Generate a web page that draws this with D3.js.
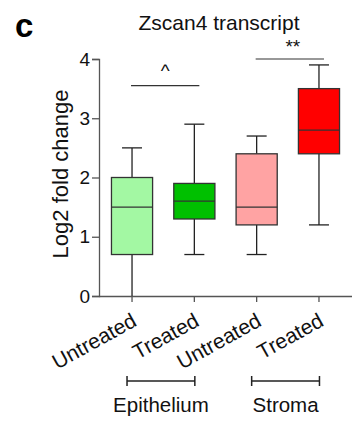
<!DOCTYPE html>
<html>
<head>
<meta charset="utf-8">
<script src="https://cdn.jsdelivr.net/npm/d3@7"></script>
<style>
  body { margin: 0; background: #fff; }
  text { font-family: Arial, "Liberation Sans", sans-serif; }
</style>
</head>
<body>
<div id="chart"></div>
<script>
// data
const categories = ["Untreated", "Treated", "Untreated", "Treated"];
const mins = [0, 0.7, 0.7, 1.2];
const q1s = [0.7, 1.3, 1.2, 2.4];
const medians = [1.5, 1.6, 1.5, 2.8];
const q3s = [2.0, 1.9, 2.4, 3.5];
const maxs = [2.5, 2.9, 2.7, 3.9];
const fills = ["#a3f8a3", "#00c000", "#ffa3a3", "#ff0000"];
const yTicks = [0, 1, 2, 3, 4];
const groups = [
  { name: "Epithelium", from: 0, to: 1 },
  { name: "Stroma", from: 2, to: 3 }
];
const sigs = [
  { label: "^", from: 0, to: 1, y: 3.55 },
  { label: "**", from: 2, to: 3, y: 4.0 }
];

const W = 356, H = 421;
const margin = { top: 60, right: 4, bottom: 125, left: 99 };

const svg = d3.select("#chart")
  .append("svg")
  .attr("width", W)
  .attr("height", H);

const x = d3.scaleBand()
  .domain(d3.range(categories.length))
  .range([margin.left, 352])
  .paddingInner(0.34)
  .paddingOuter(0.2);

const y = d3.scaleLinear()
  .domain([0, 4])
  .range([296, 59]);

const bw = x.bandwidth();
const cx = i => x(i) + bw / 2;

// axes
const yAxis = svg.append("g")
  .attr("transform", `translate(${margin.left},0)`)
  .call(d3.axisLeft(y).tickValues(yTicks).tickSize(7).tickPadding(2).tickFormat(d3.format("d")));
yAxis.selectAll("text").attr("font-size", "19px").attr("fill", "#111");
yAxis.select(".domain").attr("stroke", "#555").attr("stroke-width", 1.3);
yAxis.selectAll(".tick line").attr("stroke", "#555").attr("stroke-width", 1.3);

const xAxis = svg.append("g")
  .attr("transform", `translate(0,${y(0)})`)
  .call(d3.axisBottom(x).tickSize(6).tickFormat(i => categories[i]).tickSizeOuter(0));
xAxis.select(".domain").attr("stroke", "#555").attr("stroke-width", 1.3)
  .attr("d", `M${margin.left},0.5H352`);
xAxis.selectAll(".tick line").attr("stroke", "#555").attr("stroke-width", 1.3);
xAxis.selectAll("text")
  .attr("font-size", "21px")
  .attr("fill", "#111")
  .attr("text-anchor", "end")
  .attr("y", 0)
  .attr("dy", "0")
  .attr("transform", "translate(6,29) rotate(-29)");

// whiskers and boxes
const boxes = svg.append("g");
categories.forEach((c, i) => {
  const g = boxes.append("g");
  g.append("line")
    .attr("x1", cx(i)).attr("x2", cx(i))
    .attr("y1", y(mins[i])).attr("y2", y(q1s[i]))
    .attr("stroke", "#222").attr("stroke-width", 1.3);
  g.append("line")
    .attr("x1", cx(i)).attr("x2", cx(i))
    .attr("y1", y(q3s[i])).attr("y2", y(maxs[i]))
    .attr("stroke", "#222").attr("stroke-width", 1.3);
  [mins[i], maxs[i]].forEach(v => {
    if (v <= 0) return;
    g.append("line")
      .attr("x1", cx(i) - 10).attr("x2", cx(i) + 10)
      .attr("y1", y(v)).attr("y2", y(v))
      .attr("stroke", "#222").attr("stroke-width", 1.3);
  });
  g.append("rect")
    .attr("x", x(i)).attr("width", bw)
    .attr("y", y(q3s[i])).attr("height", y(q1s[i]) - y(q3s[i]))
    .attr("fill", fills[i])
    .attr("stroke", "#333").attr("stroke-width", 1.3);
  g.append("line")
    .attr("x1", x(i)).attr("x2", x(i) + bw)
    .attr("y1", y(medians[i])).attr("y2", y(medians[i]))
    .attr("stroke", "#333").attr("stroke-width", 1.3);
});

// significance marks
sigs.forEach(s => {
  const x1 = cx(s.from) - 1, x2 = cx(s.to) + 5;
  svg.append("line")
    .attr("x1", x1).attr("x2", x2)
    .attr("y1", y(s.y)).attr("y2", y(s.y))
    .attr("stroke", "#333").attr("stroke-width", 1.2);
  svg.append("text")
    .attr("x", (x1 + x2) / 2 + (s.label === "**" ? 3 : 0))
    .attr("y", y(s.y) - (s.label === "^" ? -2 : 0))
    .attr("dy", s.label === "^" ? "-0.55em" : "-0.3em")
    .attr("text-anchor", "middle")
    .attr("font-size", "19px")
    .attr("fill", "#111")
    .text(s.label);
});

// group brackets
groups.forEach(gr => {
  const x1 = cx(gr.from) - 5, x2 = cx(gr.to) + 0.5, yy = 381;
  svg.append("path")
    .attr("d", `M${x1},${yy - 5}V${yy + 5}M${x1},${yy}H${x2}M${x2},${yy - 5}V${yy + 5}`)
    .attr("fill", "none")
    .attr("stroke", "#222").attr("stroke-width", 1.5);
  svg.append("text")
    .attr("x", (x1 + x2) / 2)
    .attr("y", 412)
    .attr("text-anchor", "middle")
    .attr("font-size", "20.5px")
    .attr("fill", "#111")
    .text(gr.name);
});

// y label
svg.append("text")
  .attr("transform", `translate(68,174) rotate(-90)`)
  .attr("text-anchor", "middle")
  .attr("font-size", "22px")
  .attr("fill", "#111")
  .text("Log2 fold change");

// title
svg.append("text")
  .attr("x", 219)
  .attr("y", 30)
  .attr("text-anchor", "middle")
  .attr("font-size", "21px")
  .attr("fill", "#111")
  .text("Zscan4 transcript");

// panel letter
svg.append("text")
  .attr("x", 15)
  .attr("y", 37)
  .attr("font-size", "33px")
  .attr("font-weight", "bold")
  .text("c");
</script>
</body>
</html>
